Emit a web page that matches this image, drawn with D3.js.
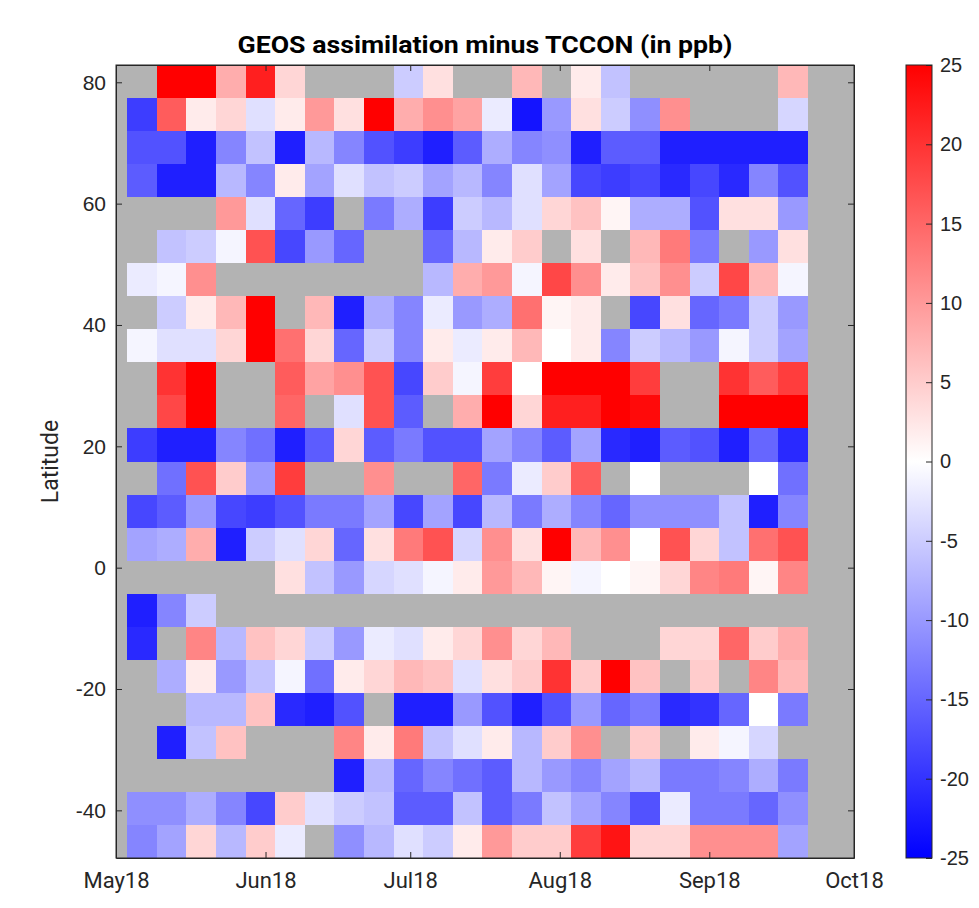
<!doctype html>
<html lang="en">
<head>
  <meta charset="utf-8">
  <title>GEOS assimilation minus TCCON</title>
  <style>
    body { margin: 0; background: #fff; }
    .axis text { font-family: "Liberation Sans", Arial, sans-serif; fill: #262626; }
    .axis path, .axis line { stroke: #262626; }
  </style>
</head>
<body>
  <script src="https://cdn.jsdelivr.net/npm/d3@7"></script>
  <script>
    // weekly bins, first bin starts early May 2018
    var colStart = new Date(2018, 4, 3, 8)
    var colDays = 6.136
    // latitude bins, listed from the top row down
    var latTop = 82.85
    var latStep = 5.446

    var monthTicks = [new Date(2018, 4, 1), new Date(2018, 5, 1), new Date(2018, 6, 1),
      new Date(2018, 7, 1), new Date(2018, 8, 1), new Date(2018, 9, 1)]
    var latTicks = [-40, -20, 0, 20, 40, 60, 80]
    var cbarTicks = [-25, -20, -15, -10, -5, 0, 5, 10, 15, 20, 25]

    // difference in ppb, null = no data
    var n = null
    var diff = [
      [n, 25, 25, 8, 22, 4, n, n, n, -5, 3, n, n, 7, n, 2, -6, n, n, n, n, n, 7],
      [-19, 16, 2, 4, -3, 2, 10, 3, 25, 8, 11, 9, -2, -23, -10, 3, -5, -11, 11, n, n, n, -4],
      [-17, -17, -22, -12, -6, -22, -7, -12, -17, -19, -22, -16, -8, -12, -11, -22, -16, -16, -22, -22, -22, -22, -22],
      [-16, -22, -22, -7, -12, 2, -9, -3, -6, -5, -9, -7, -12, -3, -9, -18, -19, -18, -21, -18, -21, -12, -17],
      [n, n, n, 10, -3, -15, -19, n, -13, -8, -19, -5, -7, -3, 4, 6, 1, -8, -8, -17, 3, 3, -10],
      [n, -6, -5, -1, 17, -18, -10, -15, n, n, -15, -7, 2, 5, n, 3, n, 7, 13, -13, n, -10, 3],
      [-2, -1, 11, n, n, n, n, n, n, n, -7, 8, 10, -1, 18, 11, 2, 6, 11, -5, 18, 7, -1],
      [n, -5, 2, 7, 25, n, 7, -22, -8, -12, -2, -10, -8, 14, 1, 2, n, -18, 3, -15, -13, -5, -10],
      [-1, -3, -3, 4, 25, 14, 4, -15, -5, -12, 2, -2, 2, 7, 0, 2, -12, -5, -7, -10, -1, -5, -9],
      [n, 20, 25, n, n, 16, 9, 11, 17, -18, 5, -1, 19, 0, 25, 25, 25, 19, n, n, 20, 16, 19],
      [n, 18, 25, n, n, 15, n, -3, 17, -16, n, 8, 25, 4, 22, 22, 25, 24, n, n, 25, 25, 25],
      [-19, -22, -22, -12, -14, -22, -16, 4, -16, -13, -17, -17, -9, -12, -16, -9, -21, -22, -16, -17, -22, -15, -21],
      [n, -14, 17, 5, -10, 19, n, n, 11, n, n, 15, -13, -2, 5, 16, n, 0, n, n, n, 0, -14],
      [-18, -16, -10, -18, -19, -17, -13, -13, -9, -18, -9, -18, -7, -13, -8, -12, -15, -11, -11, -11, -6, -22, -12],
      [-9, -8, 8, -22, -5, -3, 4, -15, 3, 13, 17, -4, 11, 3, 25, 7, 11, 0, 17, 4, -6, 14, 17],
      [n, n, n, n, n, 3, -6, -10, -4, -3, -1, 2, 10, 7, 1, -1, 0, 1, 4, 12, 13, 1, 12],
      [-22, -12, -5, n, n, n, n, n, n, n, n, n, n, n, n, n, n, n, n, n, n, n, n],
      [-21, n, 12, -7, 6, 4, -5, -10, -2, -3, 2, 4, 11, 4, 7, n, n, n, 4, 4, 15, 5, 8],
      [n, -8, 2, -10, -6, -1, -14, 2, 4, 7, 6, -3, 3, 5, 20, 5, 25, 6, n, 5, n, 12, 7],
      [n, n, -7, -7, 6, -21, -22, -17, n, -22, -22, -10, -17, -22, -17, -10, -15, -13, -21, -20, -15, 0, -13],
      [n, -22, -6, 6, n, n, n, 12, 2, 13, -6, -3, 2, -7, 5, 11, n, 5, n, 2, -1, -4, n],
      [n, n, n, n, n, n, n, -22, -7, -15, -12, -14, -16, -7, -10, -12, -9, -7, -13, -13, -12, -8, -13],
      [-11, -11, -8, -12, -18, 5, -3, -5, -6, -16, -16, -6, -16, -13, -6, -9, -12, -17, -2, -13, -13, -15, -11],
      [-12, -9, 4, -7, 5, -2, n, -11, -7, -3, -5, 2, 10, 5, 5, 19, 23, 4, 4, 11, 11, 11, -9]
    ]

    var W = 979, H = 908
    var plot = { left: 116, right: 854, top: 65, bottom: 858 }
    var dayMs = 864e5

    // plain hyphen for negatives, like the original figure
    function num(d) { return String(d) }

    var svg = d3.select('body').append('svg')
      .attr('width', W)
      .attr('height', H)

    var x = d3.scaleTime()
      .domain([new Date(2018, 4, 1), new Date(2018, 9, 1)])
      .range([plot.left, plot.right])

    var y = d3.scaleLinear()
      .domain([latTop - latStep * diff.length, latTop])
      .range([plot.bottom, plot.top])

    var color = d3.scaleLinear()
      .domain([-25, 0, 25])
      .range(['#0000ff', '#ffffff', '#ff0000'])
      .clamp(true)

    // axes background = missing data colour
    svg.append('rect')
      .attr('x', plot.left)
      .attr('y', plot.top)
      .attr('width', plot.right - plot.left)
      .attr('height', plot.bottom - plot.top)
      .attr('fill', '#b3b3b3')

    var cells = []
    diff.forEach(function(row, r) {
      row.forEach(function(v, c) {
        if (v !== null) cells.push({ r: r, c: c, v: v })
      })
    })

    function colDate(c) { return new Date(colStart.getTime() + c * colDays * dayMs) }

    svg.append('g')
      .selectAll('rect')
      .data(cells)
      .enter().append('rect')
        .attr('x', function(d) { return x(colDate(d.c)) })
        .attr('width', function(d) { return x(colDate(d.c + 1)) - x(colDate(d.c)) })
        .attr('y', function(d) { return y(latTop - latStep * d.r) })
        .attr('height', function(d) { return y(latTop - latStep * (d.r + 1)) - y(latTop - latStep * d.r) })
        .attr('fill', function(d) { return color(d.v) })
        .attr('shape-rendering', 'crispEdges')

    // axes, ticks pointing inward on all four sides
    var xAxis = d3.axisBottom(x)
      .tickValues(monthTicks)
      .tickFormat(d3.timeFormat('%b%y'))
      .tickSizeInner(-6)
      .tickSizeOuter(0)
      .tickPadding(14)

    var gx = svg.append('g')
      .attr('class', 'axis x')
      .attr('transform', 'translate(0,' + plot.bottom + ')')
      .call(xAxis)
    gx.selectAll('text')
      .style('font-family', 'Roboto, sans-serif')
      .style('font-size', '22px')

    svg.append('g')
      .attr('class', 'axis')
      .attr('transform', 'translate(0,' + plot.top + ')')
      .call(d3.axisTop(x).tickValues(monthTicks).tickFormat('').tickSizeInner(-6).tickSizeOuter(0))

    var gy = svg.append('g')
      .attr('class', 'axis y')
      .attr('transform', 'translate(' + plot.left + ',0)')
      .call(d3.axisLeft(y).tickValues(latTicks).tickFormat(num).tickSizeInner(-6).tickSizeOuter(0).tickPadding(10))
    gy.selectAll('text').style('font-size', '21px')

    svg.append('g')
      .attr('class', 'axis')
      .attr('transform', 'translate(' + plot.right + ',0)')
      .call(d3.axisRight(y).tickValues(latTicks).tickFormat('').tickSizeInner(-6).tickSizeOuter(0))

    svg.append('rect')
      .attr('x', plot.left)
      .attr('y', plot.top)
      .attr('width', plot.right - plot.left)
      .attr('height', plot.bottom - plot.top)
      .attr('fill', 'none')
      .attr('stroke', '#262626')

    svg.append('text')
      .attr('transform', 'translate(58,' + ((plot.top + plot.bottom) / 2) + ') rotate(-90)')
      .attr('text-anchor', 'middle')
      .style('font-family', 'Roboto, sans-serif')
      .style('font-size', '23px')
      .style('fill', '#262626')
      .text('Latitude')

    svg.append('text')
      .attr('x', (plot.left + plot.right) / 2)
      .attr('y', 53)
      .attr('text-anchor', 'middle')
      .attr('textLength', 495)
      .attr('lengthAdjust', 'spacingAndGlyphs')
      .style('font-family', 'Roboto, sans-serif')
      .style('font-weight', 'bold')
      .style('font-size', '24px')
      .text('GEOS assimilation minus TCCON (in ppb)')

    // colour bar
    var cb = { left: 906, width: 26 }
    var cy = d3.scaleLinear().domain([-25, 25]).range([plot.bottom, plot.top])

    var grad = svg.append('defs').append('linearGradient')
      .attr('id', 'cbar')
      .attr('x1', 0).attr('y1', 1).attr('x2', 0).attr('y2', 0)
    grad.selectAll('stop')
      .data(color.domain())
      .enter().append('stop')
        .attr('offset', function(d) { return (d + 25) / 50 })
        .attr('stop-color', function(d) { return color(d) })

    svg.append('rect')
      .attr('x', cb.left)
      .attr('y', plot.top)
      .attr('width', cb.width)
      .attr('height', plot.bottom - plot.top)
      .attr('fill', 'url(#cbar)')
      .attr('stroke', '#262626')

    var gc = svg.append('g')
      .attr('class', 'axis')
      .attr('transform', 'translate(' + (cb.left + cb.width) + ',0)')
      .call(d3.axisRight(cy).tickValues(cbarTicks).tickFormat(num).tickSizeInner(-6).tickSizeOuter(0).tickPadding(8))
    gc.select('.domain').remove()
    gc.selectAll('text').style('font-size', '20px')
  </script>
</body>
</html>
